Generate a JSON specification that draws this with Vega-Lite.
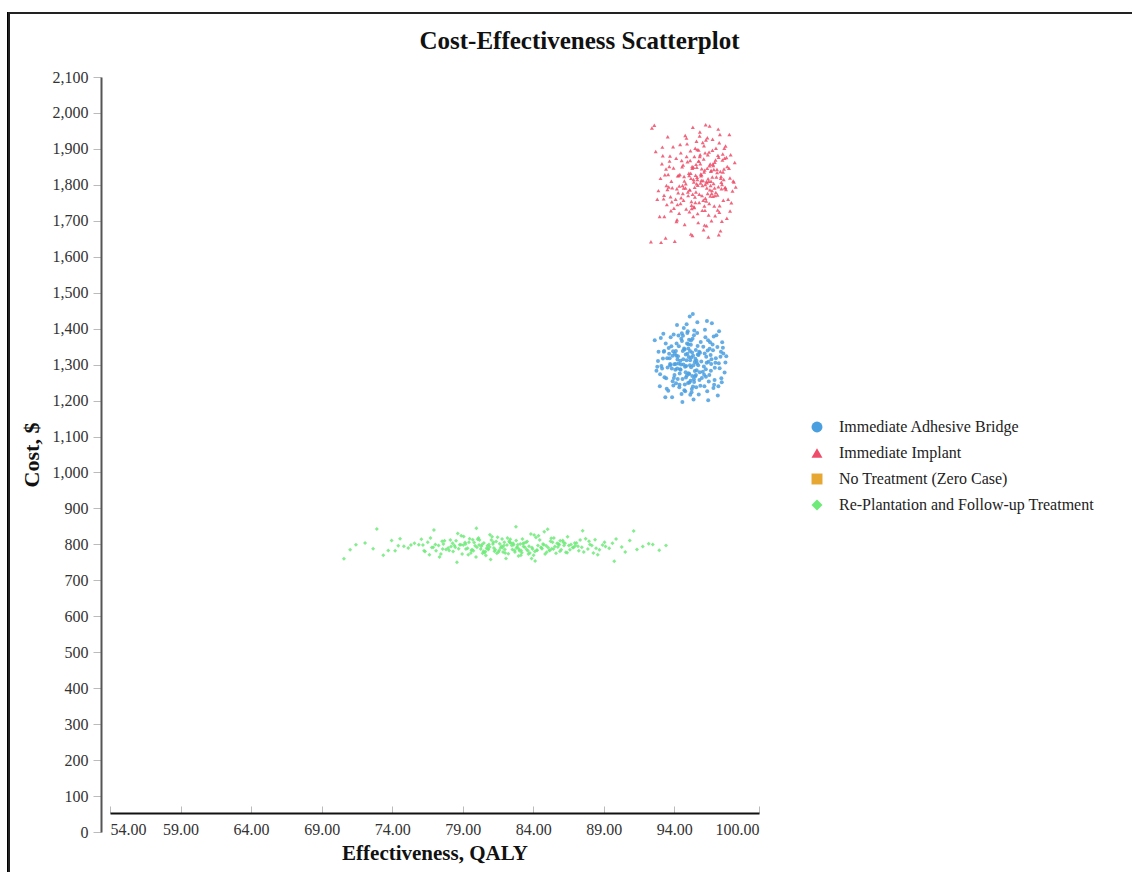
{
  "$schema": "https://vega.github.io/schema/vega-lite/v6.json",
  "autosize": "none",
  "width": 649,
  "height": 755,
  "padding": {"left": 110, "top": 77, "right": 373, "bottom": 40},
  "background": "white",
  "title": {
    "text": "Cost-Effectiveness Scatterplot",
    "anchor": "middle",
    "dx": 145,
    "offset": -42,
    "font": "Liberation Serif",
    "fontSize": 25,
    "fontWeight": "bold",
    "color": "#111111"
  },
  "config": {
    "view": {"stroke": null},
    "axis": {"grid": false, "labelFont": "Liberation Serif", "titleFont": "Liberation Serif", "labelColor": "#333333", "titleColor": "#111111"},
    "legend": {"labelFont": "Liberation Serif"}
  },
  "data": {
    "values": [
      {"arm":"A","qaly":95.12,"cost":1312},{"arm":"A","qaly":94.38,"cost":1275},{"arm":"A","qaly":96.05,"cost":1350},{"arm":"A","qaly":93.71,"cost":1298},
      {"arm":"A","qaly":95.84,"cost":1241},{"arm":"A","qaly":94.92,"cost":1388},{"arm":"A","qaly":96.61,"cost":1302},{"arm":"A","qaly":93.25,"cost":1336},
      {"arm":"A","qaly":95.47,"cost":1267},{"arm":"A","qaly":94.16,"cost":1359},{"arm":"A","qaly":96.33,"cost":1226},{"arm":"A","qaly":95.02,"cost":1321},
      {"arm":"A","qaly":93.88,"cost":1254},{"arm":"A","qaly":94.67,"cost":1402},{"arm":"A","qaly":96.94,"cost":1318},{"arm":"A","qaly":95.58,"cost":1284},
      {"arm":"A","qaly":94.03,"cost":1330},{"arm":"A","qaly":97.21,"cost":1290},{"arm":"A","qaly":92.84,"cost":1310},{"arm":"A","qaly":95.29,"cost":1372},
      {"arm":"A","qaly":94.51,"cost":1218},{"arm":"A","qaly":96.17,"cost":1397},{"arm":"A","qaly":93.42,"cost":1262},{"arm":"A","qaly":95.76,"cost":1336},
      {"arm":"A","qaly":94.84,"cost":1296},{"arm":"A","qaly":96.48,"cost":1271},{"arm":"A","qaly":93.95,"cost":1384},{"arm":"A","qaly":95.36,"cost":1203},
      {"arm":"A","qaly":94.22,"cost":1314},{"arm":"A","qaly":97.05,"cost":1349},{"arm":"A","qaly":95.91,"cost":1309},{"arm":"A","qaly":93.57,"cost":1227},
      {"arm":"A","qaly":94.73,"cost":1342},{"arm":"A","qaly":96.26,"cost":1322},{"arm":"A","qaly":95.15,"cost":1255},{"arm":"A","qaly":92.61,"cost":1368},
      {"arm":"A","qaly":94.44,"cost":1286},{"arm":"A","qaly":96.82,"cost":1244},{"arm":"A","qaly":95.63,"cost":1418},{"arm":"A","qaly":93.13,"cost":1289},
      {"arm":"A","qaly":94.99,"cost":1345},{"arm":"A","qaly":96.39,"cost":1368},{"arm":"A","qaly":95.24,"cost":1232},{"arm":"A","qaly":94.09,"cost":1302},
      {"arm":"A","qaly":97.47,"cost":1331},{"arm":"A","qaly":93.79,"cost":1351},{"arm":"A","qaly":95.69,"cost":1298},{"arm":"A","qaly":94.58,"cost":1260},
      {"arm":"A","qaly":96.02,"cost":1280},{"arm":"A","qaly":95.41,"cost":1395},{"arm":"A","qaly":93.36,"cost":1209},{"arm":"A","qaly":94.81,"cost":1328},
      {"arm":"A","qaly":96.71,"cost":1356},{"arm":"A","qaly":95.06,"cost":1274},{"arm":"A","qaly":94.29,"cost":1381},{"arm":"A","qaly":97.33,"cost":1262},
      {"arm":"A","qaly":92.97,"cost":1240},{"arm":"A","qaly":95.52,"cost":1341},{"arm":"A","qaly":94.63,"cost":1315},{"arm":"A","qaly":96.13,"cost":1240},
      {"arm":"A","qaly":93.67,"cost":1318},{"arm":"A","qaly":95.87,"cost":1363},{"arm":"A","qaly":94.35,"cost":1237},{"arm":"A","qaly":96.57,"cost":1327},
      {"arm":"A","qaly":95.19,"cost":1293},{"arm":"A","qaly":93.04,"cost":1374},{"arm":"A","qaly":94.89,"cost":1270},{"arm":"A","qaly":96.98,"cost":1382},
      {"arm":"A","qaly":95.33,"cost":1325},{"arm":"A","qaly":94.12,"cost":1248},{"arm":"A","qaly":97.62,"cost":1306},{"arm":"A","qaly":93.52,"cost":1292},
      {"arm":"A","qaly":95.73,"cost":1217},{"arm":"A","qaly":94.54,"cost":1366},{"arm":"A","qaly":96.29,"cost":1305},{"arm":"A","qaly":95.09,"cost":1434},
      {"arm":"A","qaly":93.91,"cost":1337},{"arm":"A","qaly":94.77,"cost":1226},{"arm":"A","qaly":96.44,"cost":1253},{"arm":"A","qaly":95.44,"cost":1307},
      {"arm":"A","qaly":92.73,"cost":1283},{"arm":"A","qaly":94.95,"cost":1393},{"arm":"A","qaly":96.87,"cost":1291},{"arm":"A","qaly":95.65,"cost":1352},
      {"arm":"A","qaly":94.26,"cost":1323},{"arm":"A","qaly":97.12,"cost":1240},{"arm":"A","qaly":93.3,"cost":1265},{"arm":"A","qaly":95.8,"cost":1279},
      {"arm":"A","qaly":94.69,"cost":1345},{"arm":"A","qaly":96.2,"cost":1376},{"arm":"A","qaly":95.27,"cost":1268},{"arm":"A","qaly":93.84,"cost":1209},
      {"arm":"A","qaly":94.47,"cost":1300},{"arm":"A","qaly":96.66,"cost":1415},{"arm":"A","qaly":95.11,"cost":1338},{"arm":"A","qaly":94.01,"cost":1271},
      {"arm":"A","qaly":97.39,"cost":1362},{"arm":"A","qaly":93.6,"cost":1346},{"arm":"A","qaly":95.55,"cost":1237},{"arm":"A","qaly":94.86,"cost":1312},
      {"arm":"A","qaly":96.09,"cost":1295},{"arm":"A","qaly":95.38,"cost":1259},{"arm":"A","qaly":93.19,"cost":1317},{"arm":"A","qaly":94.61,"cost":1380},
      {"arm":"A","qaly":96.77,"cost":1235},{"arm":"A","qaly":95.0,"cost":1276},{"arm":"A","qaly":94.19,"cost":1410},{"arm":"A","qaly":97.27,"cost":1322},
      {"arm":"A","qaly":92.88,"cost":1336},{"arm":"A","qaly":95.6,"cost":1304},{"arm":"A","qaly":94.41,"cost":1287},{"arm":"A","qaly":96.36,"cost":1339},
      {"arm":"A","qaly":95.22,"cost":1223},{"arm":"A","qaly":93.74,"cost":1376},{"arm":"A","qaly":94.97,"cost":1249},{"arm":"A","qaly":96.53,"cost":1362},
      {"arm":"A","qaly":95.95,"cost":1263},{"arm":"A","qaly":94.32,"cost":1351},{"arm":"A","qaly":97.56,"cost":1278},{"arm":"A","qaly":93.46,"cost":1233},
      {"arm":"A","qaly":95.49,"cost":1316},{"arm":"A","qaly":94.8,"cost":1279},{"arm":"A","qaly":96.15,"cost":1331},{"arm":"A","qaly":95.31,"cost":1441},
      {"arm":"A","qaly":93.99,"cost":1301},{"arm":"A","qaly":94.57,"cost":1196},{"arm":"A","qaly":96.91,"cost":1305},{"arm":"A","qaly":95.71,"cost":1327},
      {"arm":"A","qaly":94.07,"cost":1286},{"arm":"A","qaly":97.17,"cost":1393},{"arm":"A","qaly":93.08,"cost":1296},{"arm":"A","qaly":95.17,"cost":1355},
      {"arm":"A","qaly":94.74,"cost":1245},{"arm":"A","qaly":96.42,"cost":1308},{"arm":"A","qaly":95.4,"cost":1252},{"arm":"A","qaly":93.63,"cost":1330},
      {"arm":"A","qaly":94.87,"cost":1412},{"arm":"A","qaly":96.24,"cost":1266},{"arm":"A","qaly":95.04,"cost":1369},{"arm":"A","qaly":94.24,"cost":1260},
      {"arm":"A","qaly":97.44,"cost":1347},{"arm":"A","qaly":92.99,"cost":1273},{"arm":"A","qaly":95.66,"cost":1328},{"arm":"A","qaly":94.49,"cost":1372},
      {"arm":"A","qaly":96.59,"cost":1283},{"arm":"A","qaly":95.13,"cost":1216},{"arm":"A","qaly":93.82,"cost":1289},{"arm":"A","qaly":94.93,"cost":1330},
      {"arm":"A","qaly":96.74,"cost":1340},{"arm":"A","qaly":95.35,"cost":1298},{"arm":"A","qaly":94.14,"cost":1325},{"arm":"A","qaly":97.08,"cost":1214},
      {"arm":"A","qaly":93.39,"cost":1359},{"arm":"A","qaly":95.78,"cost":1257},{"arm":"A","qaly":94.65,"cost":1300},{"arm":"A","qaly":96.31,"cost":1421},
      {"arm":"A","qaly":95.2,"cost":1320},{"arm":"A","qaly":93.93,"cost":1242},{"arm":"A","qaly":94.53,"cost":1387},{"arm":"A","qaly":96.85,"cost":1257},
      {"arm":"A","qaly":95.57,"cost":1311},{"arm":"A","qaly":94.37,"cost":1244},{"arm":"A","qaly":97.3,"cost":1336},{"arm":"A","qaly":93.22,"cost":1386},
      {"arm":"A","qaly":95.45,"cost":1282},{"arm":"A","qaly":94.9,"cost":1359},{"arm":"A","qaly":96.11,"cost":1272},{"arm":"A","qaly":95.26,"cost":1334},
      {"arm":"A","qaly":93.7,"cost":1302},{"arm":"A","qaly":94.71,"cost":1229},{"arm":"A","qaly":96.5,"cost":1344},{"arm":"A","qaly":95.07,"cost":1250},
      {"arm":"A","qaly":94.11,"cost":1338},{"arm":"A","qaly":97.68,"cost":1323},{"arm":"A","qaly":92.79,"cost":1294},{"arm":"A","qaly":95.62,"cost":1388},
      {"arm":"A","qaly":94.43,"cost":1311},{"arm":"A","qaly":96.4,"cost":1201},{"arm":"A","qaly":95.18,"cost":1367},{"arm":"A","qaly":93.87,"cost":1325},
      {"arm":"A","qaly":94.82,"cost":1264},{"arm":"A","qaly":96.79,"cost":1378},{"arm":"A","qaly":95.32,"cost":1239},{"arm":"A","qaly":94.2,"cost":1289},
      {"arm":"A","qaly":97.15,"cost":1304},{"arm":"A","qaly":93.49,"cost":1318},{"arm":"A","qaly":95.82,"cost":1333},{"arm":"A","qaly":94.6,"cost":1338},
      {"arm":"A","qaly":96.23,"cost":1287},{"arm":"A","qaly":95.1,"cost":1298},{"arm":"A","qaly":93.97,"cost":1263},{"arm":"A","qaly":94.99,"cost":1357},
      {"arm":"A","qaly":96.63,"cost":1315},{"arm":"A","qaly":95.39,"cost":1382},{"arm":"A","qaly":94.3,"cost":1303},{"arm":"A","qaly":97.36,"cost":1251},
      {"arm":"A","qaly":93.28,"cost":1338},{"arm":"A","qaly":95.53,"cost":1271},{"arm":"A","qaly":94.76,"cost":1294},

      {"arm":"B","qaly":95.91,"cost":1812},{"arm":"B","qaly":96.74,"cost":1768},{"arm":"B","qaly":94.62,"cost":1855},{"arm":"B","qaly":97.38,"cost":1801},
      {"arm":"B","qaly":95.23,"cost":1734},{"arm":"B","qaly":96.18,"cost":1889},{"arm":"B","qaly":93.85,"cost":1792},{"arm":"B","qaly":97.02,"cost":1843},
      {"arm":"B","qaly":95.57,"cost":1921},{"arm":"B","qaly":96.43,"cost":1716},{"arm":"B","qaly":94.31,"cost":1826},{"arm":"B","qaly":97.81,"cost":1760},
      {"arm":"B","qaly":95.12,"cost":1868},{"arm":"B","qaly":96.95,"cost":1902},{"arm":"B","qaly":93.47,"cost":1745},{"arm":"B","qaly":96.27,"cost":1809},
      {"arm":"B","qaly":94.96,"cost":1780},{"arm":"B","qaly":97.56,"cost":1874},{"arm":"B","qaly":95.69,"cost":1695},{"arm":"B","qaly":96.61,"cost":1840},
      {"arm":"B","qaly":93.18,"cost":1881},{"arm":"B","qaly":95.44,"cost":1793},{"arm":"B","qaly":97.19,"cost":1724},{"arm":"B","qaly":94.77,"cost":1937},
      {"arm":"B","qaly":96.05,"cost":1757},{"arm":"B","qaly":95.03,"cost":1832},{"arm":"B","qaly":97.94,"cost":1819},{"arm":"B","qaly":94.19,"cost":1703},
      {"arm":"B","qaly":96.52,"cost":1786},{"arm":"B","qaly":95.81,"cost":1947},{"arm":"B","qaly":93.64,"cost":1851},{"arm":"B","qaly":97.27,"cost":1672},
      {"arm":"B","qaly":95.36,"cost":1815},{"arm":"B","qaly":96.88,"cost":1770},{"arm":"B","qaly":94.48,"cost":1764},{"arm":"B","qaly":96.34,"cost":1931},
      {"arm":"B","qaly":93.02,"cost":1818},{"arm":"B","qaly":95.98,"cost":1729},{"arm":"B","qaly":97.63,"cost":1908},{"arm":"B","qaly":94.87,"cost":1879},
      {"arm":"B","qaly":96.14,"cost":1688},{"arm":"B","qaly":95.27,"cost":1846},{"arm":"B","qaly":98.12,"cost":1783},{"arm":"B","qaly":93.91,"cost":1906},
      {"arm":"B","qaly":96.69,"cost":1822},{"arm":"B","qaly":95.49,"cost":1751},{"arm":"B","qaly":97.11,"cost":1955},{"arm":"B","qaly":94.35,"cost":1797},
      {"arm":"B","qaly":96.41,"cost":1655},{"arm":"B","qaly":95.74,"cost":1866},{"arm":"B","qaly":93.29,"cost":1712},{"arm":"B","qaly":97.45,"cost":1836},
      {"arm":"B","qaly":95.08,"cost":1786},{"arm":"B","qaly":96.83,"cost":1741},{"arm":"B","qaly":94.69,"cost":1823},{"arm":"B","qaly":96.22,"cost":1967},
      {"arm":"B","qaly":93.73,"cost":1767},{"arm":"B","qaly":95.62,"cost":1898},{"arm":"B","qaly":97.72,"cost":1707},{"arm":"B","qaly":94.55,"cost":1850},
      {"arm":"B","qaly":96.57,"cost":1798},{"arm":"B","qaly":95.17,"cost":1663},{"arm":"B","qaly":98.28,"cost":1862},{"arm":"B","qaly":93.56,"cost":1829},
      {"arm":"B","qaly":96.01,"cost":1918},{"arm":"B","qaly":95.39,"cost":1739},{"arm":"B","qaly":97.34,"cost":1789},{"arm":"B","qaly":94.13,"cost":1874},
      {"arm":"B","qaly":96.76,"cost":1854},{"arm":"B","qaly":95.86,"cost":1805},{"arm":"B","qaly":93.38,"cost":1652},{"arm":"B","qaly":97.09,"cost":1882},
      {"arm":"B","qaly":95.31,"cost":1960},{"arm":"B","qaly":96.47,"cost":1748},{"arm":"B","qaly":94.84,"cost":1733},{"arm":"B","qaly":96.11,"cost":1836},
      {"arm":"B","qaly":92.87,"cost":1784},{"arm":"B","qaly":95.77,"cost":1774},{"arm":"B","qaly":97.5,"cost":1815},{"arm":"B","qaly":94.41,"cost":1912},
      {"arm":"B","qaly":96.63,"cost":1700},{"arm":"B","qaly":95.54,"cost":1857},{"arm":"B","qaly":97.87,"cost":1846},{"arm":"B","qaly":93.97,"cost":1735},
      {"arm":"B","qaly":96.3,"cost":1791},{"arm":"B","qaly":95.05,"cost":1826},{"arm":"B","qaly":97.23,"cost":1940},{"arm":"B","qaly":94.27,"cost":1778},
      {"arm":"B","qaly":96.92,"cost":1869},{"arm":"B","qaly":95.65,"cost":1720},{"arm":"B","qaly":93.12,"cost":1859},{"arm":"B","qaly":97.61,"cost":1793},
      {"arm":"B","qaly":95.42,"cost":1879},{"arm":"B","qaly":96.2,"cost":1763},{"arm":"B","qaly":94.73,"cost":1690},{"arm":"B","qaly":96.71,"cost":1927},
      {"arm":"B","qaly":93.79,"cost":1810},{"arm":"B","qaly":95.94,"cost":1845},{"arm":"B","qaly":98.04,"cost":1750},{"arm":"B","qaly":94.58,"cost":1798},
      {"arm":"B","qaly":96.37,"cost":1884},{"arm":"B","qaly":95.21,"cost":1754},{"arm":"B","qaly":97.15,"cost":1661},{"arm":"B","qaly":93.53,"cost":1934},
      {"arm":"B","qaly":96.03,"cost":1812},{"arm":"B","qaly":95.58,"cost":1803},{"arm":"B","qaly":97.41,"cost":1869},{"arm":"B","qaly":94.22,"cost":1745},
      {"arm":"B","qaly":96.85,"cost":1791},{"arm":"B","qaly":95.72,"cost":1897},{"arm":"B","qaly":93.24,"cost":1761},{"arm":"B","qaly":97.03,"cost":1834},
      {"arm":"B","qaly":95.34,"cost":1712},{"arm":"B","qaly":96.54,"cost":1858},{"arm":"B","qaly":94.93,"cost":1864},{"arm":"B","qaly":96.17,"cost":1729},
      {"arm":"B","qaly":92.58,"cost":1966},{"arm":"B","qaly":95.89,"cost":1825},{"arm":"B","qaly":97.66,"cost":1787},{"arm":"B","qaly":94.39,"cost":1829},
      {"arm":"B","qaly":96.65,"cost":1776},{"arm":"B","qaly":95.14,"cost":1895},{"arm":"B","qaly":97.95,"cost":1727},{"arm":"B","qaly":93.69,"cost":1880},
      {"arm":"B","qaly":96.33,"cost":1846},{"arm":"B","qaly":95.46,"cost":1766},{"arm":"B","qaly":97.29,"cost":1818},{"arm":"B","qaly":94.03,"cost":1643},
      {"arm":"B","qaly":96.78,"cost":1804},{"arm":"B","qaly":95.79,"cost":1936},{"arm":"B","qaly":93.44,"cost":1798},{"arm":"B","qaly":97.21,"cost":1742},
      {"arm":"B","qaly":95.26,"cost":1851},{"arm":"B","qaly":96.44,"cost":1810},{"arm":"B","qaly":94.65,"cost":1757},{"arm":"B","qaly":96.08,"cost":1872},
      {"arm":"B","qaly":92.96,"cost":1712},{"arm":"B","qaly":95.61,"cost":1821},{"arm":"B","qaly":97.54,"cost":1902},{"arm":"B","qaly":94.81,"cost":1803},
      {"arm":"B","qaly":96.59,"cost":1838},{"arm":"B","qaly":95.1,"cost":1786},{"arm":"B","qaly":98.17,"cost":1811},{"arm":"B","qaly":93.82,"cost":1753},
      {"arm":"B","qaly":96.24,"cost":1925},{"arm":"B","qaly":95.51,"cost":1827},{"arm":"B","qaly":97.37,"cost":1699},{"arm":"B","qaly":94.46,"cost":1889},
      {"arm":"B","qaly":96.94,"cost":1779},{"arm":"B","qaly":95.84,"cost":1859},{"arm":"B","qaly":93.33,"cost":1828},{"arm":"B","qaly":97.06,"cost":1772},
      {"arm":"B","qaly":95.38,"cost":1808},{"arm":"B","qaly":96.5,"cost":1964},{"arm":"B","qaly":94.18,"cost":1789},{"arm":"B","qaly":96.13,"cost":1741},
      {"arm":"B","qaly":93.06,"cost":1640},{"arm":"B","qaly":95.96,"cost":1770},{"arm":"B","qaly":97.75,"cost":1851},{"arm":"B","qaly":94.71,"cost":1811},
      {"arm":"B","qaly":96.7,"cost":1896},{"arm":"B","qaly":95.22,"cost":1743},{"arm":"B","qaly":97.99,"cost":1884},{"arm":"B","qaly":93.6,"cost":1794},
      {"arm":"B","qaly":96.28,"cost":1686},{"arm":"B","qaly":95.59,"cost":1849},{"arm":"B","qaly":97.31,"cost":1823},{"arm":"B","qaly":94.34,"cost":1721},
      {"arm":"B","qaly":96.86,"cost":1863},{"arm":"B","qaly":95.66,"cost":1799},{"arm":"B","qaly":93.15,"cost":1905},{"arm":"B","qaly":97.14,"cost":1877},
      {"arm":"B","qaly":95.3,"cost":1774},{"arm":"B","qaly":96.39,"cost":1817},{"arm":"B","qaly":94.9,"cost":1914},{"arm":"B","qaly":96.19,"cost":1801},
      {"arm":"B","qaly":92.34,"cost":1642},{"arm":"B","qaly":95.83,"cost":1884},{"arm":"B","qaly":97.47,"cost":1757},{"arm":"B","qaly":94.52,"cost":1868},
      {"arm":"B","qaly":96.6,"cost":1810},{"arm":"B","qaly":95.07,"cost":1725},{"arm":"B","qaly":98.35,"cost":1794},{"arm":"B","qaly":93.94,"cost":1847},
      {"arm":"B","qaly":96.36,"cost":1776},{"arm":"B","qaly":95.48,"cost":1902},{"arm":"B","qaly":97.26,"cost":1837},{"arm":"B","qaly":94.09,"cost":1760},
      {"arm":"B","qaly":96.8,"cost":1843},{"arm":"B","qaly":95.76,"cost":1751},{"arm":"B","qaly":93.51,"cost":1787},{"arm":"B","qaly":97.07,"cost":1730},
      {"arm":"B","qaly":95.18,"cost":1818},{"arm":"B","qaly":96.46,"cost":1891},{"arm":"B","qaly":94.79,"cost":1791},{"arm":"B","qaly":96.07,"cost":1675},
      {"arm":"B","qaly":92.68,"cost":1893},{"arm":"B","qaly":95.71,"cost":1866},{"arm":"B","qaly":97.58,"cost":1791},{"arm":"B","qaly":94.44,"cost":1748},
      {"arm":"B","qaly":96.73,"cost":1858},{"arm":"B","qaly":95.16,"cost":1832},{"arm":"B","qaly":97.9,"cost":1940},{"arm":"B","qaly":93.76,"cost":1728},
      {"arm":"B","qaly":96.31,"cost":1806},{"arm":"B","qaly":95.53,"cost":1780},{"arm":"B","qaly":97.43,"cost":1886},{"arm":"B","qaly":94.24,"cost":1825},
      {"arm":"B","qaly":96.89,"cost":1714},{"arm":"B","qaly":95.87,"cost":1830},{"arm":"B","qaly":93.27,"cost":1771},{"arm":"B","qaly":97.18,"cost":1917},
      {"arm":"B","qaly":95.35,"cost":1849},{"arm":"B","qaly":96.55,"cost":1769},{"arm":"B","qaly":94.66,"cost":1791},{"arm":"B","qaly":96.15,"cost":1841},
      {"arm":"B","qaly":92.41,"cost":1958},{"arm":"B","qaly":95.99,"cost":1798},{"arm":"B","qaly":97.69,"cost":1876},{"arm":"B","qaly":94.86,"cost":1930},
      {"arm":"B","qaly":96.67,"cost":1784},{"arm":"B","qaly":95.28,"cost":1659},{"arm":"B","qaly":98.22,"cost":1808},{"arm":"B","qaly":93.66,"cost":1866},
      {"arm":"B","qaly":96.26,"cost":1755},{"arm":"B","qaly":95.63,"cost":1815},{"arm":"B","qaly":97.33,"cost":1807},{"arm":"B","qaly":94.15,"cost":1698},
      {"arm":"B","qaly":96.98,"cost":1822},{"arm":"B","qaly":95.8,"cost":1879},{"arm":"B","qaly":93.41,"cost":1844},{"arm":"B","qaly":97.12,"cost":1795},
      {"arm":"B","qaly":95.41,"cost":1737},{"arm":"B","qaly":96.49,"cost":1853},{"arm":"B","qaly":94.98,"cost":1770},{"arm":"B","qaly":96.1,"cost":1909},
      {"arm":"B","qaly":92.79,"cost":1760},{"arm":"B","qaly":95.93,"cost":1828},{"arm":"B","qaly":97.52,"cost":1844},{"arm":"B","qaly":94.6,"cost":1776},

      {"arm":"R","qaly":82.14,"cost":798},{"arm":"R","qaly":79.62,"cost":784},{"arm":"R","qaly":85.37,"cost":806},{"arm":"R","qaly":76.91,"cost":792},
      {"arm":"R","qaly":88.45,"cost":789},{"arm":"R","qaly":81.03,"cost":812},{"arm":"R","qaly":83.76,"cost":776},{"arm":"R","qaly":78.28,"cost":803},
      {"arm":"R","qaly":86.52,"cost":797},{"arm":"R","qaly":80.47,"cost":781},{"arm":"R","qaly":84.19,"cost":819},{"arm":"R","qaly":74.83,"cost":795},
      {"arm":"R","qaly":89.61,"cost":803},{"arm":"R","qaly":82.95,"cost":768},{"arm":"R","qaly":77.54,"cost":809},{"arm":"R","qaly":85.98,"cost":785},
      {"arm":"R","qaly":80.86,"cost":800},{"arm":"R","qaly":83.31,"cost":794},{"arm":"R","qaly":79.07,"cost":822},{"arm":"R","qaly":87.23,"cost":782},
      {"arm":"R","qaly":81.68,"cost":790},{"arm":"R","qaly":72.65,"cost":788},{"arm":"R","qaly":84.74,"cost":799},{"arm":"R","qaly":78.96,"cost":773},
      {"arm":"R","qaly":86.09,"cost":811},{"arm":"R","qaly":82.41,"cost":804},{"arm":"R","qaly":76.33,"cost":780},{"arm":"R","qaly":90.27,"cost":793},
      {"arm":"R","qaly":80.12,"cost":818},{"arm":"R","qaly":83.95,"cost":787},{"arm":"R","qaly":79.88,"cost":796},{"arm":"R","qaly":85.61,"cost":775},
      {"arm":"R","qaly":81.37,"cost":808},{"arm":"R","qaly":88.02,"cost":800},{"arm":"R","qaly":77.82,"cost":786},{"arm":"R","qaly":84.37,"cost":824},
      {"arm":"R","qaly":82.7,"cost":779},{"arm":"R","qaly":75.58,"cost":803},{"arm":"R","qaly":86.86,"cost":791},{"arm":"R","qaly":80.64,"cost":769},
      {"arm":"R","qaly":83.08,"cost":801},{"arm":"R","qaly":78.53,"cost":810},{"arm":"R","qaly":91.35,"cost":786},{"arm":"R","qaly":81.92,"cost":797},
      {"arm":"R","qaly":85.14,"cost":784},{"arm":"R","qaly":79.35,"cost":789},{"arm":"R","qaly":87.71,"cost":816},{"arm":"R","qaly":82.23,"cost":774},
      {"arm":"R","qaly":76.18,"cost":798},{"arm":"R","qaly":84.55,"cost":792},{"arm":"R","qaly":80.93,"cost":827},{"arm":"R","qaly":83.49,"cost":806},
      {"arm":"R","qaly":78.04,"cost":783},{"arm":"R","qaly":89.12,"cost":794},{"arm":"R","qaly":81.25,"cost":781},{"arm":"R","qaly":85.79,"cost":801},
      {"arm":"R","qaly":79.71,"cost":813},{"arm":"R","qaly":73.96,"cost":811},{"arm":"R","qaly":86.31,"cost":778},{"arm":"R","qaly":82.86,"cost":793},
      {"arm":"R","qaly":77.29,"cost":797},{"arm":"R","qaly":84.02,"cost":770},{"arm":"R","qaly":80.28,"cost":787},{"arm":"R","qaly":87.95,"cost":809},
      {"arm":"R","qaly":81.79,"cost":815},{"arm":"R","qaly":83.62,"cost":782},{"arm":"R","qaly":78.79,"cost":799},{"arm":"R","qaly":92.18,"cost":802},
      {"arm":"R","qaly":80.41,"cost":775},{"arm":"R","qaly":85.46,"cost":818},{"arm":"R","qaly":82.52,"cost":786},{"arm":"R","qaly":76.64,"cost":771},
      {"arm":"R","qaly":84.91,"cost":796},{"arm":"R","qaly":79.16,"cost":805},{"arm":"R","qaly":88.69,"cost":785},{"arm":"R","qaly":81.14,"cost":801},
      {"arm":"R","qaly":83.83,"cost":829},{"arm":"R","qaly":77.97,"cost":790},{"arm":"R","qaly":86.67,"cost":800},{"arm":"R","qaly":82.07,"cost":761},
      {"arm":"R","qaly":74.21,"cost":782},{"arm":"R","qaly":85.22,"cost":809},{"arm":"R","qaly":80.75,"cost":796},{"arm":"R","qaly":83.19,"cost":777},
      {"arm":"R","qaly":79.49,"cost":816},{"arm":"R","qaly":87.44,"cost":792},{"arm":"R","qaly":81.58,"cost":783},{"arm":"R","qaly":71.43,"cost":799},
      {"arm":"R","qaly":84.62,"cost":788},{"arm":"R","qaly":78.41,"cost":797},{"arm":"R","qaly":90.84,"cost":811},{"arm":"R","qaly":82.34,"cost":805},
      {"arm":"R","qaly":76.07,"cost":814},{"arm":"R","qaly":85.89,"cost":781},{"arm":"R","qaly":80.01,"cost":792},{"arm":"R","qaly":83.27,"cost":802},
      {"arm":"R","qaly":79.94,"cost":765},{"arm":"R","qaly":86.18,"cost":797},{"arm":"R","qaly":81.47,"cost":820},{"arm":"R","qaly":88.26,"cost":776},
      {"arm":"R","qaly":77.63,"cost":801},{"arm":"R","qaly":84.28,"cost":784},{"arm":"R","qaly":82.79,"cost":811},{"arm":"R","qaly":75.14,"cost":790},
      {"arm":"R","qaly":87.06,"cost":804},{"arm":"R","qaly":80.55,"cost":777},{"arm":"R","qaly":83.7,"cost":795},{"arm":"R","qaly":78.65,"cost":830},
      {"arm":"R","qaly":85.05,"cost":791},{"arm":"R","qaly":81.86,"cost":779},{"arm":"R","qaly":89.87,"cost":815},{"arm":"R","qaly":79.23,"cost":787},
      {"arm":"R","qaly":82.61,"cost":799},{"arm":"R","qaly":76.52,"cost":806},{"arm":"R","qaly":84.84,"cost":773},{"arm":"R","qaly":80.37,"cost":800},
      {"arm":"R","qaly":86.43,"cost":821},{"arm":"R","qaly":83.14,"cost":783},{"arm":"R","qaly":77.11,"cost":782},{"arm":"R","qaly":88.91,"cost":798},
      {"arm":"R","qaly":81.21,"cost":790},{"arm":"R","qaly":85.69,"cost":803},{"arm":"R","qaly":79.58,"cost":776},{"arm":"R","qaly":82.98,"cost":787},
      {"arm":"R","qaly":73.37,"cost":770},{"arm":"R","qaly":84.46,"cost":812},{"arm":"R","qaly":80.82,"cost":786},{"arm":"R","qaly":87.58,"cost":779},
      {"arm":"R","qaly":81.95,"cost":806},{"arm":"R","qaly":78.17,"cost":794},{"arm":"R","qaly":83.88,"cost":761},{"arm":"R","qaly":86.97,"cost":796},
      {"arm":"R","qaly":79.81,"cost":805},{"arm":"R","qaly":82.17,"cost":818},{"arm":"R","qaly":75.89,"cost":799},{"arm":"R","qaly":85.31,"cost":788},
      {"arm":"R","qaly":80.19,"cost":812},{"arm":"R","qaly":83.41,"cost":792},{"arm":"R","qaly":77.45,"cost":773},{"arm":"R","qaly":89.38,"cost":789},
      {"arm":"R","qaly":81.62,"cost":802},{"arm":"R","qaly":84.11,"cost":780},{"arm":"R","qaly":78.89,"cost":824},{"arm":"R","qaly":86.6,"cost":785},
      {"arm":"R","qaly":82.48,"cost":797},{"arm":"R","qaly":76.81,"cost":791},{"arm":"R","qaly":92.93,"cost":784},{"arm":"R","qaly":80.69,"cost":789},
      {"arm":"R","qaly":83.57,"cost":808},{"arm":"R","qaly":79.39,"cost":771},{"arm":"R","qaly":85.84,"cost":799},{"arm":"R","qaly":81.31,"cost":785},
      {"arm":"R","qaly":87.32,"cost":812},{"arm":"R","qaly":78.32,"cost":780},{"arm":"R","qaly":84.69,"cost":801},{"arm":"R","qaly":82.01,"cost":776},
      {"arm":"R","qaly":74.56,"cost":816},{"arm":"R","qaly":86.25,"cost":803},{"arm":"R","qaly":80.91,"cost":793},{"arm":"R","qaly":83.23,"cost":815},
      {"arm":"R","qaly":79.04,"cost":798},{"arm":"R","qaly":88.57,"cost":771},{"arm":"R","qaly":81.74,"cost":795},{"arm":"R","qaly":85.17,"cost":783},
      {"arm":"R","qaly":77.71,"cost":810},{"arm":"R","qaly":82.82,"cost":790},{"arm":"R","qaly":72.08,"cost":804},{"arm":"R","qaly":84.95,"cost":778},
      {"arm":"R","qaly":80.5,"cost":804},{"arm":"R","qaly":86.79,"cost":791},{"arm":"R","qaly":83.02,"cost":782},{"arm":"R","qaly":78.71,"cost":788},
      {"arm":"R","qaly":91.76,"cost":794},{"arm":"R","qaly":81.08,"cost":821},{"arm":"R","qaly":85.53,"cost":794},{"arm":"R","qaly":79.67,"cost":785},
      {"arm":"R","qaly":82.29,"cost":809},{"arm":"R","qaly":76.26,"cost":782},{"arm":"R","qaly":84.33,"cost":797},{"arm":"R","qaly":80.06,"cost":814},
      {"arm":"R","qaly":87.87,"cost":787},{"arm":"R","qaly":83.66,"cost":773},{"arm":"R","qaly":77.06,"cost":800},{"arm":"R","qaly":89.05,"cost":806},
      {"arm":"R","qaly":81.53,"cost":779},{"arm":"R","qaly":85.91,"cost":810},{"arm":"R","qaly":79.21,"cost":801},{"arm":"R","qaly":82.67,"cost":784},
      {"arm":"R","qaly":75.33,"cost":798},{"arm":"R","qaly":84.06,"cost":826},{"arm":"R","qaly":80.32,"cost":795},{"arm":"R","qaly":86.4,"cost":777},
      {"arm":"R","qaly":83.35,"cost":804},{"arm":"R","qaly":78.47,"cost":792},{"arm":"R","qaly":90.52,"cost":779},{"arm":"R","qaly":81.99,"cost":786},
      {"arm":"R","qaly":85.27,"cost":817},{"arm":"R","qaly":79.76,"cost":782},{"arm":"R","qaly":82.9,"cost":799},{"arm":"R","qaly":73.72,"cost":783},
      {"arm":"R","qaly":84.58,"cost":790},{"arm":"R","qaly":80.79,"cost":788},{"arm":"R","qaly":88.15,"cost":797},{"arm":"R","qaly":81.42,"cost":775},
      {"arm":"R","qaly":86.13,"cost":806},{"arm":"R","qaly":78.12,"cost":812},{"arm":"R","qaly":83.53,"cost":786},{"arm":"R","qaly":77.36,"cost":765},
      {"arm":"R","qaly":85.74,"cost":793},{"arm":"R","qaly":82.57,"cost":803},{"arm":"R","qaly":76.71,"cost":818},{"arm":"R","qaly":84.24,"cost":784},
      {"arm":"R","qaly":80.16,"cost":798},{"arm":"R","qaly":87.17,"cost":795},{"arm":"R","qaly":81.83,"cost":791},{"arm":"R","qaly":93.41,"cost":797},
      {"arm":"R","qaly":79.44,"cost":806},{"arm":"R","qaly":83.12,"cost":770},{"arm":"R","qaly":85.43,"cost":787},{"arm":"R","qaly":71.02,"cost":785},
      {"arm":"R","qaly":82.37,"cost":814},{"arm":"R","qaly":78.87,"cost":799},{"arm":"R","qaly":86.94,"cost":804},{"arm":"R","qaly":80.61,"cost":780},
      {"arm":"R","qaly":84.78,"cost":835},{"arm":"R","qaly":83.9,"cost":791},{"arm":"R","qaly":77.58,"cost":787},{"arm":"R","qaly":88.38,"cost":813},
      {"arm":"R","qaly":81.17,"cost":806},{"arm":"R","qaly":74.43,"cost":796},{"arm":"R","qaly":92.47,"cost":800},{"arm":"R","qaly":70.58,"cost":760},
      {"arm":"R","qaly":79.97,"cost":845},{"arm":"R","qaly":85.02,"cost":842},{"arm":"R","qaly":82.77,"cost":849},{"arm":"R","qaly":87.5,"cost":838},
      {"arm":"R","qaly":76.96,"cost":840},{"arm":"R","qaly":89.74,"cost":753},{"arm":"R","qaly":80.98,"cost":758},{"arm":"R","qaly":84.13,"cost":754},
      {"arm":"R","qaly":72.91,"cost":843},{"arm":"R","qaly":91.12,"cost":837},{"arm":"R","qaly":78.59,"cost":750}
    ]
  },
  "layer": [
    {
      "description": "outer frame line running off the top-left edge",
      "mark": {"type": "rect", "fill": null, "stroke": "#222222", "strokeWidth": 2, "clip": false},
      "encoding": {
        "x": {"datum": 46.84, "type": "quantitative"},
        "x2": {"datum": 200},
        "y": {"datum": 2278, "type": "quantitative"},
        "y2": {"datum": -2000}
      }
    },
    {
      "mark": {"type": "point", "filled": true, "size": 16, "opacity": 0.85},
      "encoding": {
        "x": {
          "field": "qaly", "type": "quantitative",
          "scale": {"domain": [54, 100], "nice": false, "zero": false},
          "axis": {
            "title": "Effectiveness, QALY",
            "titleFontSize": 21, "titleFontWeight": "bold", "titlePadding": 5,
            "values": [54, 59, 64, 69, 74, 79, 84, 89, 94, 100],
            "tickCount": 20,
            "format": ".2f",
            "labelFontSize": 16, "labelPadding": 15,
            "offset": -19,
            "domainColor": "#111111", "domainWidth": 2,
            "tickColor": "#bbbbbb", "tickSize": -7, "tickWidth": 1
          }
        },
        "y": {
          "field": "cost", "type": "quantitative",
          "scale": {"domain": [0, 2100], "nice": false},
          "axis": {
            "title": "Cost, $",
            "titleFontSize": 22, "titleFontWeight": "bold", "titlePadding": 9,
            "values": [0, 100, 200, 300, 400, 500, 600, 700, 800, 900, 1000, 1100, 1200, 1300, 1400, 1500, 1600, 1700, 1800, 1900, 2000, 2100],
            "tickCount": 40,
            "labelOverlap": false,
            "format": ",.0f",
            "labelFontSize": 16, "labelPadding": 5,
            "offset": 9,
            "domainColor": "#555555", "domainWidth": 2,
            "tickColor": "#bbbbbb", "tickSize": 8, "tickWidth": 1
          }
        },
        "color": {
          "field": "arm", "type": "nominal",
          "scale": {"domain": ["A", "B", "N", "R"], "range": ["#4a9fdf", "#ee4c68", "#e6a733", "#6eea79"]},
          "legend": {
            "title": null,
            "orient": "none", "legendX": 699, "legendY": 342,
            "labelExpr": "{'A': 'Immediate Adhesive Bridge', 'B': 'Immediate Implant', 'N': 'No Treatment (Zero Case)', 'R': 'Re-Plantation and Follow-up Treatment'}[datum.label]",
            "labelFontSize": 16, "labelColor": "#222222", "labelOffset": 14, "labelLimit": 400,
            "symbolSize": 120, "symbolOpacity": 1, "rowPadding": 10
          }
        },
        "shape": {
          "field": "arm", "type": "nominal",
          "scale": {"domain": ["A", "B", "N", "R"], "range": ["circle", "triangle-up", "square", "diamond"]},
          "legend": null
        }
      }
    }
  ]
}
